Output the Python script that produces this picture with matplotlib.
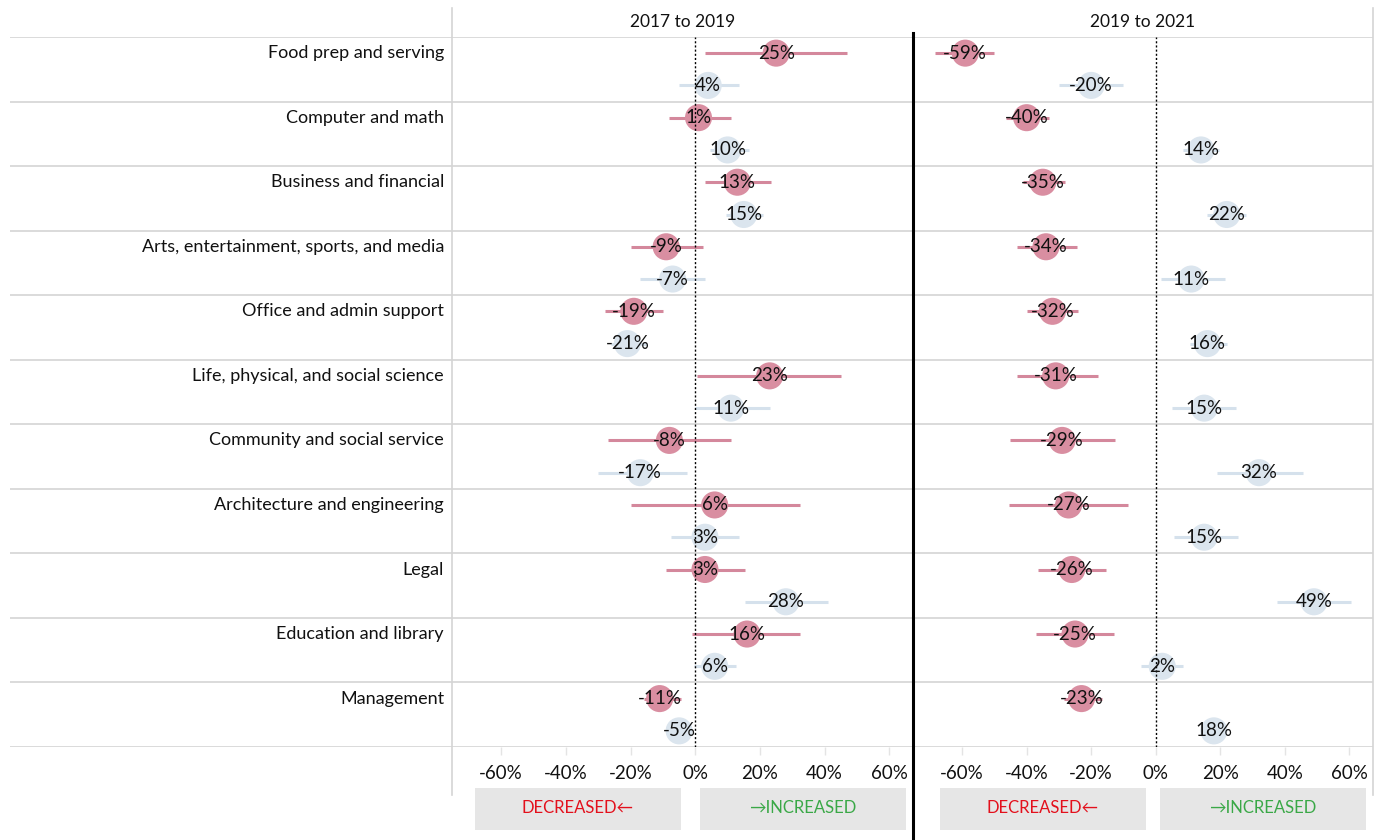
import matplotlib
matplotlib.use("Agg")
import matplotlib.pyplot as plt
from matplotlib.lines import Line2D
from matplotlib.patches import Rectangle
import numpy as np

plt.rcParams['font.family'] = ['Lato', 'DejaVu Sans']

categories = [
    "Food prep and serving",
    "Computer and math",
    "Business and financial",
    "Arts, entertainment, sports, and media",
    "Office and admin support",
    "Life, physical, and social science",
    "Community and social service",
    "Architecture and engineering",
    "Legal",
    "Education and library",
    "Management",
]
periods = ["2017 to 2019", "2019 to 2021"]

# 2017 to 2019
a1_mid = [25, 1, 13, -9, -19, 23, -8, 6, 3, 16, -11]
a1_lo = [3, -8, 3, -20, -28, 0.5, -27, -20, -9, -1, -16]
a1_hi = [47, 11, 23.5, 2.5, -10, 45, 11, 32.5, 15.5, 32.5, -4.5]
b1_mid = [4, 10, 15, -7, -21, 11, -17, 3, 28, 6, -5]
b1_lo = [-5, 4.5, 9.5, -17, -26, 0, -30, -7.5, 15.5, -0.5, -8]
b1_hi = [13.5, 16.5, 21, 3, -15, 23, -2.5, 13.5, 41, 12.5, -2]

# 2019 to 2021
a2_mid = [-59, -40, -35, -34, -32, -31, -29, -27, -26, -25, -23]
a2_lo = [-68.5, -46.5, -41, -43, -40, -43, -45, -45.5, -36.5, -37, -28.5]
a2_hi = [-50, -33, -28, -24.5, -24, -18, -12.5, -8.5, -15.5, -13, -16.5]
b2_mid = [-20, 14, 22, 11, 16, 15, 32, 15, 49, 2, 18]
b2_lo = [-30, 8.5, 16, 1.5, 10.5, 5, 19, 5.5, 37.5, -4.5, 15]
b2_hi = [-10, 19.5, 28, 21.5, 22, 25, 45.5, 25.5, 60.5, 8.5, 21]

xticks = [-60, -40, -20, 0, 20, 40, 60]
xtick_labels = [f"{t}%" for t in xticks]

W, H = 1379, 840
fig = plt.figure(figsize=(W / 100, H / 100), dpi=100)


def fx(px):
    return px / W


def fy(py):
    return 1 - py / H


PINK = "#d98ea1"
PINK_LINE = "#d4889c"
BLUE = "#dbe5ee"
BLUE_LINE = "#d5e1ec"
GRID = "#d4d4d4"
TEXT = "#111111"

top_px, bot_px = 37, 747
n = len(categories)
ax_bottom = fy(bot_px)
ax_height = (bot_px - top_px) / H

label_ax = fig.add_axes([fx(10), ax_bottom, fx(442), ax_height])
panel_axes = [
    fig.add_axes([fx(452), ax_bottom, fx(461), ax_height]),
    fig.add_axes([fx(913), ax_bottom, fx(460), ax_height]),
]

# category column
label_ax.set_xlim(0, 1)
label_ax.set_ylim(n, 0)
label_ax.axis("off")
for i, cat in enumerate(categories):
    label_ax.text((444 - 10) / 442, i + 0.25, cat, ha="right", va="center",
                  fontsize=13, color=TEXT)
for b in range(n + 1):
    label_ax.axhline(b, color=GRID, lw=1.2, zorder=0)

series = [
    (a1_mid, a1_lo, a1_hi, b1_mid, b1_lo, b1_hi),
    (a2_mid, a2_lo, a2_hi, b2_mid, b2_lo, b2_hi),
]

for ax, title, (am, al, ah, bm, bl, bh) in zip(panel_axes, periods, series):
    ax.set_xlim(-75.2, 67.3)
    ax.set_ylim(n, 0)
    for s in ax.spines.values():
        s.set_visible(False)
    ax.set_yticks([])
    ax.set_xticks(xticks)
    ax.set_xticklabels(xtick_labels, fontsize=13.5, color=TEXT)
    ax.tick_params(axis="x", length=6, width=1, color="#e4e4e4", pad=7)
    for b in range(n + 1):
        ax.axhline(b, color=GRID, lw=1.2, zorder=0)
    ax.axvline(0, color="black", lw=1, ls=(0, (1.5, 1.5)), zorder=3)

    ya = np.arange(n) + 0.25
    yb = np.arange(n) + 0.75
    ax.hlines(ya, al, ah, color=PINK_LINE, lw=2.2, zorder=1)
    ax.hlines(yb, bl, bh, color=BLUE_LINE, lw=2.2, zorder=1)
    ax.scatter(am, ya, s=380, color=PINK, edgecolors="none", zorder=2)
    ax.scatter(bm, yb, s=380, color=BLUE, edgecolors="none", zorder=2)
    for v, y in zip(am, ya):
        ax.text(v, y, f"{v}%", ha="center", va="center", fontsize=13.5,
                color=TEXT, zorder=4)
    for v, y in zip(bm, yb):
        ax.text(v, y, f"{v}%", ha="center", va="center", fontsize=13.5,
                color=TEXT, zorder=4)

# panel headers
fig.text(fx(682.5), fy(22), periods[0], ha="center", va="center", fontsize=12.5, color=TEXT)
fig.text(fx(1143), fy(22), periods[1], ha="center", va="center", fontsize=12.5, color=TEXT)

# outer frame lines and central divider
for xpx in (452, 1373):
    fig.add_artist(Line2D([fx(xpx), fx(xpx)], [fy(8), fy(795)], color=GRID, lw=1.2,
                          transform=fig.transFigure))
fig.add_artist(Line2D([fx(913), fx(913)], [fy(33), fy(840)], color="black", lw=2.2,
                      transform=fig.transFigure, zorder=10))

# direction buttons
buttons = [
    (475, 681, "DECREASED\u2190", "#e3101c"),
    (700, 906, "\u2192INCREASED", "#3aa847"),
    (940, 1146, "DECREASED\u2190", "#e3101c"),
    (1160, 1366, "\u2192INCREASED", "#3aa847"),
]
for x0, x1, txt, col in buttons:
    fig.add_artist(Rectangle((fx(x0), fy(830)), fx(x1 - x0), (830 - 788) / H,
                             transform=fig.transFigure, facecolor="#e6e6e6",
                             edgecolor="none"))
    fig.text(fx((x0 + x1) / 2), fy(808), txt, ha="center", va="center",
             fontsize=12, color=col)

fig.savefig("out.png", dpi=100)
